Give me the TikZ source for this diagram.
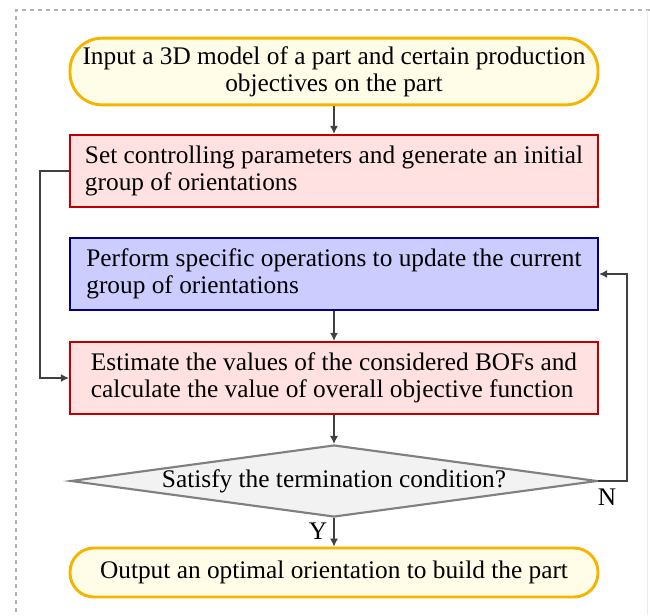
\documentclass[tikz,border=0pt]{standalone}
\usepackage{fontspec}
\setmainfont{Liberation Serif}
\usetikzlibrary{shapes.geometric,arrows.meta}
\definecolor{termfill}{HTML}{FFFDE8}
\definecolor{termdraw}{HTML}{F5B400}
\definecolor{redfill}{HTML}{FFE1E1}
\definecolor{reddraw}{HTML}{C00000}
\definecolor{bluefill}{HTML}{CCCCFF}
\definecolor{bluedraw}{HTML}{000080}
\definecolor{diafill}{HTML}{F2F2F2}
\definecolor{diadraw}{HTML}{808080}
\definecolor{linecol}{HTML}{404040}
\tikzset{
  base/.style={font=\fontsize{19}{20.5}\selectfont, inner sep=0pt},
  term/.style={base, draw=termdraw, fill=termfill, line width=2.2pt, align=center,
     minimum width=396pt, rounded corners=#1},
  redbox/.style={base, draw=reddraw, fill=redfill, line width=1.8pt, align=left,
     minimum width=396pt, minimum height=54pt},
  bluebox/.style={base, draw=bluedraw, fill=bluefill, line width=1.8pt, align=left,
     minimum width=396pt, minimum height=54pt},
  decision/.style={base, diamond, aspect=7.32, draw=diadraw, fill=diafill, line width=1.6pt,
     minimum width=395pt, minimum height=54pt},
  conn/.style={draw=linecol, line width=0.8pt, -{Latex[length=6pt,width=6pt]}},
  lbl/.style={font=\fontsize{19}{20.5}\selectfont, inner sep=0pt},
}
\begin{document}
\begin{tikzpicture}[x=0.75pt,y=-0.75pt]
\useasboundingbox (0,0) rectangle (650,615);
\draw[gray!60, dashed, line width=0.8pt] (16,620) -- (16,10) -- (650,10);
\draw[gray!15, line width=0.6pt] (647,10) -- (647,615);

\node[term=24pt, minimum height=50pt] (start) at (334,71.5)
  {Input a 3D model of a part and certain production\\objectives on the part};
\node[redbox] (set) at (334,171)
  {Set controlling parameters and generate an initial\\group of orientations};
\node[bluebox] (perform) at (334,274)
  {Perform specific operations to update the current\\group of orientations};
\node[redbox] (estimate) at (334,378)
  {Estimate the values of the considered BOFs and\\calculate the value of overall objective function};
\node[decision] (dec) at (334,481) {Satisfy the termination condition?};
\node[term=18pt, minimum height=36.75pt] (final) at (334,572.5)
  {Output an optimal orientation to build the part};

\coordinate (lt) at (40,171);
\coordinate (lb) at (40,378);
\coordinate (rb) at (627,481);
\coordinate (rt) at (627,274);

\draw[conn] (start.south) -- (set.north);
\draw[conn] (perform.south) -- (estimate.north);
\draw[conn] (estimate.south) -- (dec.north);
\draw[conn] (dec.south) -- (final.north);
\draw[conn] (set.west) -- (lt) -- (lb) -- (estimate.west);
\draw[conn] (dec.east) -- (rb) -- (rt) -- (perform.east);

\node[lbl] (ylab) at (318,531) {Y};
\node[lbl] (nlab) at (607,497) {N};
\end{tikzpicture}
\end{document}
